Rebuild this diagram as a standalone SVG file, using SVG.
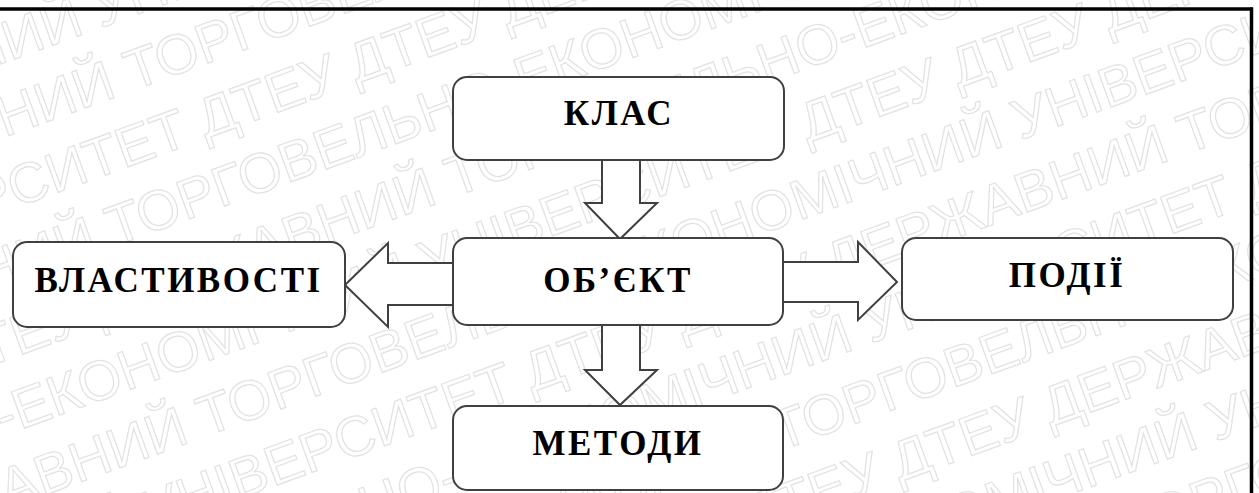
<svg xmlns="http://www.w3.org/2000/svg" width="1259" height="493" viewBox="0 0 1259 493">
  <style>
    .box { fill: #ffffff; stroke: #404040; stroke-width: 2; }
    .arrow { fill: #ffffff; stroke: #404040; stroke-width: 2; stroke-linejoin: miter; }
    .label { font-family: 'Liberation Serif', 'Times New Roman', serif; font-weight: 700; font-size: 35px; fill: #000000; text-anchor: middle; letter-spacing: 2.5px; }
    .wm { font-family: 'Liberation Sans', Arial, sans-serif; font-size: 56px; fill: none; stroke: #e2e2e2; stroke-width: 1.2; }
  </style>

  <rect width="1259" height="493" fill="#ffffff"/>

  <!-- background watermark -->
  <g id="watermark" transform="rotate(-20 630 246)">
    <text class="wm" x="-700" y="-420">ДТЕУ ДТЕУ ДЕРЖАВНИЙ ТОРГОВЕЛЬНО-ЕКОНОМІЧНИЙ УНІВЕРСИТЕТ ДТЕУ ДТЕУ ДЕРЖАВНИЙ ТОРГОВЕЛЬНО-ЕКОНОМІЧНИЙ</text>
    <text class="wm" x="-520" y="-350">ЕКОНОМІЧНИЙ УНІВЕРСИТЕТ ДТЕУ ДТЕУ ДЕРЖАВНИЙ ТОРГОВЕЛЬНО-ЕКОНОМІЧНИЙ УНІВЕРСИТЕТ ДТЕУ ДТЕУ</text>
    <text class="wm" x="-610" y="-280">ДТЕУ ДЕРЖАВНИЙ ТОРГОВЕЛЬНО-ЕКОНОМІЧНИЙ УНІВЕРСИТЕТ ДТЕУ ДТЕУ ДЕРЖАВНИЙ ТОРГОВЕЛЬНО-ЕКОНОМІЧНИЙ</text>
    <text class="wm" x="-430" y="-210">УНІВЕРСИТЕТ ДТЕУ ДТЕУ ДЕРЖАВНИЙ ТОРГОВЕЛЬНО-ЕКОНОМІЧНИЙ УНІВЕРСИТЕТ ДТЕУ ДТЕУ ДЕРЖАВНИЙ</text>
    <text class="wm" x="-660" y="-140">ТОРГОВЕЛЬНО-ЕКОНОМІЧНИЙ УНІВЕРСИТЕТ ДТЕУ ДТЕУ ДЕРЖАВНИЙ ТОРГОВЕЛЬНО-ЕКОНОМІЧНИЙ УНІВЕРСИТЕТ</text>
    <text class="wm" x="-480" y="-70">ДТЕУ ДТЕУ ДЕРЖАВНИЙ ТОРГОВЕЛЬНО-ЕКОНОМІЧНИЙ УНІВЕРСИТЕТ ДТЕУ ДТЕУ ДЕРЖАВНИЙ ТОРГОВЕЛЬНО</text>
    <text class="wm" x="-570" y="0">ЕКОНОМІЧНИЙ УНІВЕРСИТЕТ ДТЕУ ДТЕУ ДЕРЖАВНИЙ ТОРГОВЕЛЬНО-ЕКОНОМІЧНИЙ УНІВЕРСИТЕТ ДТЕУ ДТЕУ</text>
    <text class="wm" x="-390" y="70">ДТЕУ ДЕРЖАВНИЙ ТОРГОВЕЛЬНО-ЕКОНОМІЧНИЙ УНІВЕРСИТЕТ ДТЕУ ДТЕУ ДЕРЖАВНИЙ ТОРГОВЕЛЬНО-ЕКОНОМІЧНИЙ</text>
    <text class="wm" x="-620" y="140">УНІВЕРСИТЕТ ДТЕУ ДТЕУ ДЕРЖАВНИЙ ТОРГОВЕЛЬНО-ЕКОНОМІЧНИЙ УНІВЕРСИТЕТ ДТЕУ ДТЕУ ДЕРЖАВНИЙ</text>
    <text class="wm" x="-440" y="210">ТОРГОВЕЛЬНО-ЕКОНОМІЧНИЙ УНІВЕРСИТЕТ ДТЕУ ДТЕУ ДЕРЖАВНИЙ ТОРГОВЕЛЬНО-ЕКОНОМІЧНИЙ УНІВЕРСИТЕТ</text>
    <text class="wm" x="-530" y="280">ДТЕУ ДТЕУ ДЕРЖАВНИЙ ТОРГОВЕЛЬНО-ЕКОНОМІЧНИЙ УНІВЕРСИТЕТ ДТЕУ ДТЕУ ДЕРЖАВНИЙ ТОРГОВЕЛЬНО</text>
    <text class="wm" x="-350" y="350">ЕКОНОМІЧНИЙ УНІВЕРСИТЕТ ДТЕУ ДТЕУ ДЕРЖАВНИЙ ТОРГОВЕЛЬНО-ЕКОНОМІЧНИЙ УНІВЕРСИТЕТ ДТЕУ ДТЕУ</text>
    <text class="wm" x="-580" y="420">ДТЕУ ДЕРЖАВНИЙ ТОРГОВЕЛЬНО-ЕКОНОМІЧНИЙ УНІВЕРСИТЕТ ДТЕУ ДТЕУ ДЕРЖАВНИЙ ТОРГОВЕЛЬНО-ЕКОНОМІЧНИЙ</text>
    <text class="wm" x="-400" y="490">УНІВЕРСИТЕТ ДТЕУ ДТЕУ ДЕРЖАВНИЙ ТОРГОВЕЛЬНО-ЕКОНОМІЧНИЙ УНІВЕРСИТЕТ ДТЕУ ДТЕУ ДЕРЖАВНИЙ</text>
    <text class="wm" x="-630" y="560">ТОРГОВЕЛЬНО-ЕКОНОМІЧНИЙ УНІВЕРСИТЕТ ДТЕУ ДТЕУ ДЕРЖАВНИЙ ТОРГОВЕЛЬНО-ЕКОНОМІЧНИЙ УНІВЕРСИТЕТ</text>
    <text class="wm" x="-450" y="630">ДТЕУ ДТЕУ ДЕРЖАВНИЙ ТОРГОВЕЛЬНО-ЕКОНОМІЧНИЙ УНІВЕРСИТЕТ ДТЕУ ДТЕУ ДЕРЖАВНИЙ ТОРГОВЕЛЬНО</text>
    <text class="wm" x="-540" y="700">ЕКОНОМІЧНИЙ УНІВЕРСИТЕТ ДТЕУ ДТЕУ ДЕРЖАВНИЙ ТОРГОВЕЛЬНО-ЕКОНОМІЧНИЙ УНІВЕРСИТЕТ ДТЕУ ДТЕУ</text>
    <text class="wm" x="-360" y="770">ДТЕУ ДЕРЖАВНИЙ ТОРГОВЕЛЬНО-ЕКОНОМІЧНИЙ УНІВЕРСИТЕТ ДТЕУ ДТЕУ ДЕРЖАВНИЙ ТОРГОВЕЛЬНО-ЕКОНОМІЧНИЙ</text>
    <text class="wm" x="-590" y="840">УНІВЕРСИТЕТ ДТЕУ ДТЕУ ДЕРЖАВНИЙ ТОРГОВЕЛЬНО-ЕКОНОМІЧНИЙ УНІВЕРСИТЕТ ДТЕУ ДТЕУ ДЕРЖАВНИЙ</text>
  </g>

  <!-- frame lines -->
  <line x1="0" y1="9" x2="1253" y2="9" stroke="#000000" stroke-width="3.5"/>
  <line x1="1251.5" y1="7.5" x2="1251.5" y2="493" stroke="#000000" stroke-width="3.5"/>

  <!-- block arrows -->
  <g id="connectors">
    <polygon class="arrow" points="602,160 640,160 640,203 657,203 620,239 585,203 602,203"/>
    <polygon class="arrow" points="602,325 640,325 640,370 657,370 620,405 585,370 602,370"/>
    <polygon class="arrow" points="453,263 388,263 388,243 345,285 388,327 388,305 453,305"/>
    <polygon class="arrow" points="783,262 858,262 858,242 897,282 858,320 858,302 783,302"/>
  </g>

  <g id="class">
    <rect class="box" x="453" y="77" width="331" height="83" rx="14"/>
    <text class="label" x="619" y="125">КЛАС</text>
  </g>

  <g id="object">
    <rect class="box" x="453" y="238" width="330" height="87" rx="14"/>
    <text class="label" x="618" y="292">ОБ’ЄКТ</text>
  </g>

  <g id="properties">
    <rect class="box" x="13" y="242" width="332" height="85" rx="14"/>
    <text class="label" x="178.5" y="292">ВЛАСТИВОСТІ</text>
  </g>

  <g id="events">
    <rect class="box" x="902" y="238" width="331" height="82" rx="14"/>
    <text class="label" x="1067" y="287">ПОДІЇ</text>
  </g>

  <g id="methods">
    <rect class="box" x="453" y="406" width="330" height="84" rx="14"/>
    <text class="label" x="618" y="455">МЕТОДИ</text>
  </g>
</svg>
